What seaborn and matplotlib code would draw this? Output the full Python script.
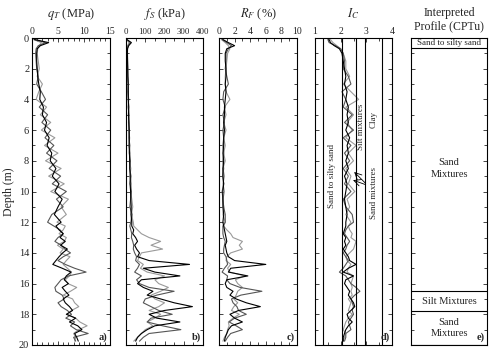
#!/usr/bin/env python3
"""
CPTu profiles: qT, fS, RF, Ic and interpreted soil profile vs depth.
"""

import numpy as np
import pandas as pd
import matplotlib
matplotlib.use("Agg")
import matplotlib.pyplot as plt
from matplotlib.ticker import MultipleLocator
import seaborn as sns

sns.set_theme(style="ticks")
plt.rcParams['font.family'] = ['Liberation Serif', 'DejaVu Serif']
plt.rcParams['mathtext.fontset'] = 'stix'
plt.rcParams['xtick.direction'] = 'in'
plt.rcParams['ytick.direction'] = 'in'
plt.rcParams['axes.linewidth'] = 0.8

# depth grid (m), shared by the three soundings
depth = [0.1, 0.3, 0.5, 0.7, 1.0,
         1.5, 2.0, 2.5, 3.0, 3.5, 4.0, 4.5, 5.0, 5.5, 6.0, 6.5, 7.0, 7.5, 8.0,
         8.5, 9.0, 9.5, 10.0, 10.5, 11.0, 11.5, 12.0,
         12.25, 12.5, 12.75, 13.0, 13.25, 13.5, 13.75, 14.0, 14.25, 14.5,
         14.75, 15.0, 15.25, 15.5, 15.75, 16.0, 16.25, 16.5, 16.75, 17.0,
         17.25, 17.5, 17.75, 18.0, 18.25, 18.5, 18.75, 19.0, 19.25, 19.5, 19.75]

soundings = ["CPTu-1", "CPTu-2", "CPTu-3"]

# corrected cone resistance qT (MPa)
qt_1 = [0.5, 3.2, 1.6, 1.0, 0.9,
        0.9, 1.0, 1.1, 1.3, 1.6, 1.5, 2.2, 2.0, 2.8, 2.4, 3.3, 2.9, 3.8, 3.5,
        4.6, 3.9, 5.2, 4.4, 5.8, 5.0, 4.3, 5.6,
        4.6, 5.2, 6.0, 5.4, 6.4, 5.5, 6.8, 5.9, 5.2, 4.6, 4.0, 5.8, 7.5, 6.6,
        6.2, 7.0, 5.8, 6.4, 7.1, 6.0, 6.4, 7.2, 7.8, 6.6, 8.4, 7.2, 8.8, 9.6,
        8.2, 8.6, 8.9]
qt_2 = [0.4, 2.6, 1.2, 0.8, 0.7,
        0.8, 0.9, 1.2, 0.9, 1.8, 2.6, 1.4, 3.0, 1.9, 3.6, 2.5, 4.2, 2.8, 4.8,
        3.3, 5.5, 3.9, 6.6, 4.7, 6.0, 3.8, 3.0,
        4.2, 5.4, 6.0, 5.0, 4.4, 5.6, 6.3, 7.4, 6.0, 5.0, 6.4, 8.2, 10.4, 7.0,
        5.6, 5.0, 4.4, 4.6, 5.8, 6.2, 5.0, 5.6, 6.8, 7.6, 6.5, 8.2, 7.4, 8.5,
        10.8, 8.0, 8.4]
qt_3 = [0.3, 1.8, 1.4, 1.1, 1.0,
        1.2, 1.4, 1.0, 2.0, 1.3, 0.8, 2.8, 1.6, 3.6, 1.8, 4.4, 2.4, 5.0, 2.6,
        5.6, 3.2, 6.2, 3.6, 7.0, 5.6, 6.6, 4.8,
        6.4, 6.0, 5.2, 6.6, 6.2, 4.9, 6.0, 5.4, 7.3, 6.6, 6.0, 6.8, 7.6, 7.2,
        6.4, 6.9, 8.6, 7.4, 6.0, 7.8, 8.2, 9.0, 7.6, 6.8, 8.4, 9.2, 10.6, 9.0,
        8.0, 8.4, 8.2]

# sleeve friction fS (kPa)
fs_1 = [5, 28, 14, 8, 7,
        8, 9, 10, 11, 12, 12, 14, 13, 15, 16, 17, 16, 18, 19, 20, 22, 21, 24,
        25, 27, 26, 30,
        30, 40, 35, 50, 60, 45, 55, 70, 60, 120, 330, 90, 150, 280, 80, 60,
        90, 140, 110, 180, 250, 345, 200, 120, 160, 280, 150, 110, 80, 60, 50]
fs_2 = [4, 22, 10, 7, 6,
        7, 8, 9, 12, 10, 14, 11, 16, 13, 18, 15, 20, 17, 23, 19, 26, 22, 28,
        24, 20, 32, 25,
        20, 25, 30, 28, 35, 40, 38, 45, 55, 50, 70, 60, 45, 80, 55, 70, 120,
        250, 160, 100, 90, 130, 170, 240, 130, 110, 190, 285, 120, 90, 70]
fs_3 = [3, 15, 9, 8, 8,
        9, 10, 8, 13, 9, 11, 15, 12, 17, 14, 19, 16, 22, 18, 25, 21, 28, 24,
        30, 35, 28, 38,
        40, 60, 80, 120, 180, 130, 190, 80, 70, 60, 90, 75, 110, 200, 150,
        170, 220, 180, 130, 150, 200, 170, 120, 180, 150, 110, 140, 100, 80,
        60, 40]

# friction ratio RF (%)
rf_1 = [0.5, 1.2, 2.0, 1.0, 0.8,
        0.8, 0.9, 0.9, 0.8, 0.9, 0.8, 0.7, 0.7, 0.6, 0.7, 0.6, 0.6, 0.5, 0.6,
        0.5, 0.5, 0.6, 0.5, 0.5, 0.5, 0.6, 0.5,
        0.6, 0.7, 0.8, 0.9, 1.0, 0.8, 0.9, 1.0, 1.2, 2.0, 6.0, 1.5, 1.2, 3.7,
        1.0, 0.8, 1.0, 1.8, 1.4, 2.2, 3.5, 5.3, 2.5, 1.4, 2.0, 3.0, 1.6, 1.2,
        1.0, 0.8, 0.7]
rf_2 = [0.4, 1.0, 1.6, 1.2, 0.9,
        0.9, 0.8, 1.0, 1.2, 0.6, 0.5, 0.8, 0.5, 0.7, 0.5, 0.6, 0.5, 0.6, 0.5,
        0.6, 0.5, 0.6, 0.4, 0.5, 0.6, 0.8, 0.8,
        0.5, 0.5, 0.5, 0.6, 0.8, 0.7, 0.6, 0.6, 0.9, 1.0, 1.1, 0.7, 0.4, 1.1,
        1.0, 1.4, 2.7, 5.5, 2.8, 1.6, 1.8, 2.3, 2.5, 3.5, 2.0, 1.3, 2.2, 3.0,
        1.5, 1.1, 0.8]
rf_3 = [0.3, 0.8, 1.2, 1.4, 1.1,
        1.0, 0.9, 0.8, 0.8, 0.9, 1.4, 0.7, 0.9, 0.6, 0.9, 0.6, 0.8, 0.6, 0.8,
        0.5, 0.7, 0.5, 0.7, 0.5, 0.6, 0.5, 0.8,
        0.6, 1.0, 1.5, 1.8, 3.0, 2.6, 3.0, 1.5, 1.0, 0.9, 1.5, 1.1, 1.4, 3.3,
        2.1, 2.4, 3.0, 2.4, 2.2, 1.9, 2.4, 1.9, 1.6, 2.6, 1.8, 1.2, 1.3, 1.1,
        1.0, 0.7, 0.5]

# soil behaviour type index Ic
ic_1 = [1.55, 1.6, 1.75, 1.95, 2.05,
        2.1, 2.15, 2.2, 2.15, 2.25, 2.2, 2.3, 2.25, 2.3, 2.2, 2.35, 2.25, 2.3,
        2.2, 2.3, 2.15, 2.25, 2.2, 2.15, 2.2, 2.25, 2.2,
        2.2, 2.15, 2.1, 2.2, 2.15, 2.2, 2.1, 2.2, 2.3, 2.35, 2.6, 2.3, 2.1,
        2.5, 2.2, 2.15, 2.25, 2.35, 2.3, 2.4, 2.5, 2.55, 2.4, 2.25, 2.3, 2.45,
        2.3, 2.2, 2.15, 2.1, 2.1]
ic_2 = [1.5, 1.55, 1.8, 2.0, 2.1,
        2.15, 2.1, 2.3, 2.4, 2.05, 2.2, 2.1, 2.45, 2.15, 2.5, 2.1, 2.4, 2.15,
        2.35, 2.1, 2.3, 2.15, 2.4, 2.1, 2.2, 2.45, 2.5,
        2.3, 2.2, 2.15, 2.25, 2.35, 2.25, 2.2, 2.1, 2.2, 2.3, 2.2, 2.1, 1.95,
        2.2, 2.3, 2.4, 2.6, 2.75, 2.55, 2.4, 2.45, 2.5, 2.45, 2.5, 2.4, 2.3,
        2.35, 2.4, 2.2, 2.2, 2.15]
ic_3 = [1.6, 1.7, 1.85, 2.0, 2.1,
        2.2, 2.2, 2.35, 2.1, 2.4, 2.7, 2.2, 2.5, 2.25, 2.45, 2.2, 2.6, 2.3,
        2.5, 2.2, 2.4, 2.3, 2.55, 2.25, 2.35, 2.2, 2.4,
        2.3, 2.35, 2.45, 2.4, 2.6, 2.55, 2.5, 2.35, 2.2, 2.25, 2.4, 2.3, 2.25,
        2.5, 2.45, 2.4, 2.45, 2.4, 2.45, 2.3, 2.4, 2.35, 2.3, 2.45, 2.3, 2.2,
        2.15, 2.1, 2.2, 2.15, 2.1]

# Ic class boundaries and interpreted layers
ic_bounds = [1.31, 2.05, 2.60, 2.95, 3.60]
layer_tops = [0.0, 0.65, 16.5, 17.8]
layer_bottoms = [0.65, 16.5, 17.8, 20.0]
layer_names = ["Sand to silty sand", "Sand\nMixtures", "Silt Mixtures",
               "Sand\nMixtures"]
layer_label_depth = [0.33, 8.5, 17.15, 18.9]

line_colors = ["black", "#555555", "#9a9a9a"]

frames = []
for name, q, f, r, ic in zip(soundings, [qt_1, qt_2, qt_3], [fs_1, fs_2, fs_3],
                             [rf_1, rf_2, rf_3], [ic_1, ic_2, ic_3]):
    frames.append(pd.DataFrame({"depth": depth, "qt": q, "fs": f, "rf": r,
                                "ic": ic, "sounding": name}))
df = pd.concat(frames, ignore_index=True)

fig = plt.figure(figsize=(4.94, 3.5), dpi=100)
lefts = [32, 126, 219, 315, 411]
widths = [78, 77, 78, 77, 76]
axes = [fig.add_axes([l / 494, 5 / 350, w / 494, 307 / 350])
        for l, w in zip(lefts, widths)]

panels = [
    ("qt", r"$q_T$ (MPa)", (0, 15), 5, 1, "a)", 7),
    ("fs", r"$f_S$ (kPa)", (0, 400), 100, 50, "b)", 6.4),
    ("rf", r"$R_F$ (%)", (0, 10), 2, 1, "c)", 7),
    ("ic", r"$I_C$", (1, 4), 1, 0.5, "d)", 7),
]

for ax, (col, title, xlim, major, minor, tag, lsize) in zip(axes[:4], panels):
    # light lines first so the black one sits on top
    for name, colr in reversed(list(zip(soundings, line_colors))):
        sub = df[df["sounding"] == name]
        sns.lineplot(data=sub, x=col, y="depth", orient="y", sort=False,
                     estimator=None, color=colr, lw=0.8, ax=ax, legend=False)
    ax.set_xlim(*xlim)
    ax.xaxis.set_major_locator(MultipleLocator(major))
    ax.xaxis.set_minor_locator(MultipleLocator(minor))
    ax.tick_params(axis="x", which="both", top=True, bottom=True,
                   labeltop=True, labelbottom=False, labelsize=lsize, pad=1.5)
    ax.set_xlabel("")
    ax.set_title(title, fontsize=9, pad=15)
    ax.text(0.97, 0.01, tag, transform=ax.transAxes, ha="right", va="bottom",
            fontsize=7.5, fontweight="bold")

# Ic class boundaries and labels
axd = axes[3]
for b in ic_bounds:
    axd.axvline(b, color="black", lw=0.8)
axd.text(1.68, 9.0, "Sand to silty sand", rotation=90, fontsize=6.5,
         ha="center", va="center")
axd.text(2.78, 5.8, "Silt mixtures", rotation=90, fontsize=6.5,
         ha="center", va="center")
axd.text(3.28, 5.3, "Clay", rotation=90, fontsize=6.5, ha="center",
         va="center")
axd.text(3.28, 10.1, "Sand mixtures", rotation=90, fontsize=6.5,
         ha="center", va="center")
axd.annotate("", xy=(2.38, 9.2), xytext=(3.05, 9.6),
             arrowprops=dict(arrowstyle="->", lw=0.6, color="black"))
axd.annotate("", xy=(2.45, 8.6), xytext=(3.05, 9.6),
             arrowprops=dict(arrowstyle="->", lw=0.6, color="black"))

# interpreted profile
axe = axes[4]
axe.set_xlim(0, 1)
for bot, name, mid in zip(layer_bottoms, layer_names, layer_label_depth):
    axe.axhline(bot, color="black", lw=0.8)
    axe.text(0.5, mid, name, ha="center", va="center", linespacing=1.3,
             fontsize=6.5 if mid < 1 else 7.5)
axe.set_xticks([])
axe.set_title("Interpreted\nProfile (CPTu)", fontsize=8.5, pad=6,
              linespacing=1.2)
axe.text(0.97, 0.01, "e)", transform=axe.transAxes, ha="right", va="bottom",
         fontsize=7.5, fontweight="bold")

for i, ax in enumerate(axes):
    ax.set_ylim(20, 0)
    ax.yaxis.set_major_locator(MultipleLocator(2))
    ax.yaxis.set_minor_locator(MultipleLocator(1))
    ax.tick_params(axis="y", which="both", left=True, right=True,
                   labelleft=(i == 0), labelsize=7.5, pad=2)
    ax.tick_params(which="major", length=3, width=0.6)
    ax.tick_params(which="minor", length=2, width=0.6)
    ax.set_ylabel("")
    for s in ax.spines.values():
        s.set_linewidth(0.8)
        s.set_color("black")

axes[0].set_ylabel("Depth (m)", fontsize=8.5, labelpad=3)

fig.savefig("out.png", dpi=100)
